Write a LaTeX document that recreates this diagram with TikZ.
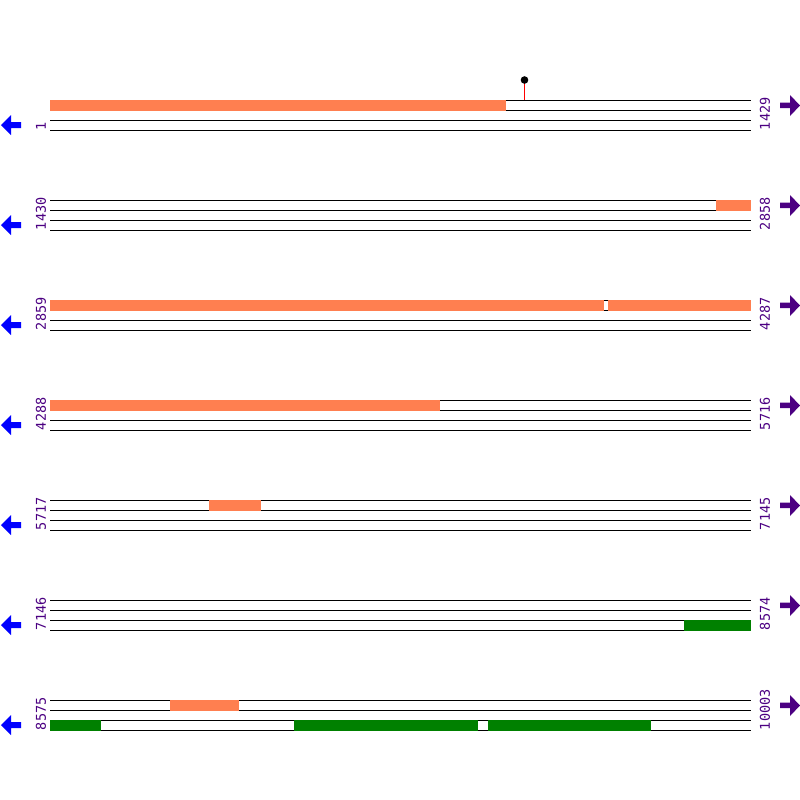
\documentclass[tikz,border=0pt]{standalone}
\usepackage{fontspec}
\usepackage{tikz}
\newfontfamily\posfont{DejaVu Sans Mono}
\definecolor{coral}{RGB}{255,127,80}
\definecolor{featgreen}{RGB}{0,128,0}
\definecolor{posindigo}{RGB}{75,0,130}

\begin{document}
\begin{tikzpicture}[x=1pt,y=-1pt,line width=1pt,
    every node/.style={font=\posfont\fontsize{13.5}{13.5}\selectfont, text=posindigo, inner sep=0pt},
    poslabel/.style={rotate=90, anchor=west}]
        \useasboundingbox (0,0) rectangle (800,800);
        % tracks, labels and arrows for each row
        \foreach \row/\lft/\rgt in {0/1/1429, 1/1430/2858, 2/2859/4287, 3/4288/5716,
                                    4/5717/7145, 5/7146/8574, 6/8575/10003} {
          \pgfmathsetmacro\ytop{100+100*\row}
          \foreach \k in {0,...,3}
            \draw (50,\ytop+10*\k) -- (751,\ytop+10*\k);
          \node [poslabel] (left\row) at (41,\ytop+30.5) {\lft};
          \node [poslabel] (right\row) at (765,\ytop+30.5) {\rgt};
          \fill [blue] (1,\ytop+25) -- (11,\ytop+15) -- (11,\ytop+22) -- (21,\ytop+22)
                -- (21,\ytop+28) -- (11,\ytop+28) -- (11,\ytop+35) -- cycle;
          \fill [posindigo] (800,\ytop+5.5) -- (790,\ytop-5) -- (790,\ytop+2.5) -- (780,\ytop+2.5)
                -- (780,\ytop+8) -- (790,\ytop+8) -- (790,\ytop+16) -- cycle;
        }
        % features on the upper band
        \fill [coral] (50,99.5) rectangle (506,110.5);
        \fill [coral] (716,199.5) rectangle (751,210.5);
        \fill [coral] (50,299.5) rectangle (604,310.5);
        \fill [coral] (608,299.5) rectangle (751,310.5);
        \fill [coral] (50,399.5) rectangle (440,410.5);
        \fill [coral] (209,499.5) rectangle (261,510.5);
        \fill [coral] (170,699.5) rectangle (239,710.5);
        % features on the lower band
        \fill [featgreen] (684,619.5) rectangle (751,630.5);
        \fill [featgreen] (50,719.5) rectangle (101,730.5);
        \fill [featgreen] (294,719.5) rectangle (478,730.5);
        \fill [featgreen] (488,719.5) rectangle (651,730.5);
        % site marker
        \draw [red] (524.5,100) -- (524.5,80);
        \fill (524.5,80) circle [radius = 3.8];
      \end{tikzpicture}
\end{document}
